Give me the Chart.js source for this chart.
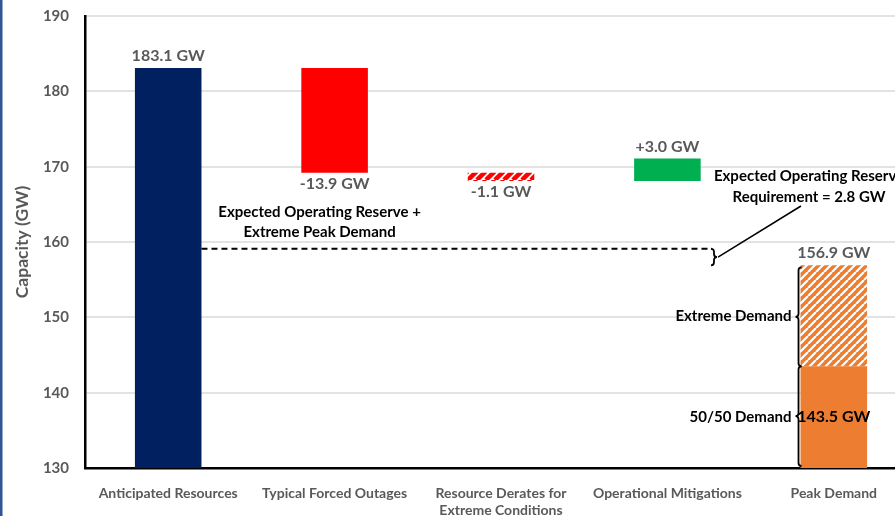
<!DOCTYPE html>
<html>
<head>
<meta charset="utf-8">
<script src="https://cdn.jsdelivr.net/npm/chart.js@4.4.0/dist/chart.umd.min.js"></script>
<style>
  html, body { margin:0; padding:0; background:#fff; overflow:hidden; width:895px; height:516px; }
  canvas { display:block; }
</style>
</head>
<body>
<canvas id="waterfall" width="917" height="516"></canvas>
<script>
const categories = ['Anticipated Resources','Typical Forced Outages',['Resource Derates for','Extreme Conditions'],'Operational Mitigations','Peak Demand'];
const steps = [183.1, -13.9, -1.1, 3.0];
const demand5050 = 143.5;
const demandPeak = 156.9;
const reserveReq = 2.8;
const reserveLevel = 159.1;
const yTicks = [130,140,150,160,170,180,190];

const grayTxt = '#595959';
const FONT = 'Lato, "Open Sans", sans-serif';

function hatch(fg, bg, size, lw){
  const c = document.createElement('canvas');
  c.width = size; c.height = size;
  const g = c.getContext('2d');
  g.fillStyle = bg; g.fillRect(0,0,size,size);
  g.strokeStyle = fg; g.lineWidth = lw;
  g.beginPath();
  for(let k=-1;k<=1;k++){ g.moveTo(k*size, size); g.lineTo(k*size+size, 0); }
  g.stroke();
  return g.createPattern(c,'repeat');
}
const redHatch = hatch('#ff0000','#ffffff',9,4.5);
const orangeHatch = hatch('#ffffff','#ed7d31',8,2.2);

// waterfall ranges
let level = 0;
const ranges = [], labels = [];
steps.forEach((d,i)=>{
  const a = level, b = level + d; level = b;
  if(i===0){ ranges.push([yTicks[0], b]); labels.push(b.toFixed(1)+' GW'); }
  else { ranges.push([Math.min(a,b), Math.max(a,b)]); labels.push((d>0?'+':'')+d.toFixed(1)+' GW'); }
});
ranges.push([yTicks[0], demand5050]);
const extremeRange = [null,null,null,null,[demand5050, demandPeak]];

const barColors = ['#002060','#ff0000',redHatch,'#00b050','#ed7d31'];

function brace(ctx, x, y1, y2, dir){
  const r = 3, ym = (y1+y2)/2;
  ctx.beginPath();
  ctx.moveTo(x - dir*r, y1);
  ctx.quadraticCurveTo(x, y1, x, y1 + r);
  ctx.lineTo(x, ym - r);
  ctx.quadraticCurveTo(x, ym, x + dir*r, ym);
  ctx.quadraticCurveTo(x, ym, x, ym + r);
  ctx.lineTo(x, y2 - r);
  ctx.quadraticCurveTo(x, y2, x - dir*r, y2);
  ctx.stroke();
}

const annotations = {
  id:'annotations',
  afterDatasetsDraw(chart){
    const ctx = chart.ctx, xs = chart.scales.x, ys = chart.scales.y;
    const bars = chart.getDatasetMeta(0).data;
    const ext = chart.getDatasetMeta(1).data[4];
    ctx.save();
    ctx.textAlign = 'center';
    ctx.font = 'bold 16px ' + FONT;
    ctx.fillStyle = grayTxt;
    // value labels
    steps.forEach((d,i)=>{
      const b = bars[i];
      const top = Math.min(b.y, b.base), bot = Math.max(b.y, b.base);
      if(d>0){ ctx.textBaseline='bottom'; ctx.fillText(labels[i], b.x, top-4); }
      else { ctx.textBaseline='top'; ctx.fillText(labels[i], b.x, bot+3); }
    });
    ctx.textBaseline='bottom';
    ctx.fillText(demandPeak.toFixed(1)+' GW', ext.x, Math.min(ext.y,ext.base)-5);
    ctx.fillStyle = '#000';
    ctx.textBaseline='middle';
    ctx.fillText(demand5050.toFixed(1)+' GW', bars[4].x, ys.getPixelForValue((yTicks[0]+demand5050)/2));

    // reserve dashed line
    const yRes = ys.getPixelForValue(reserveLevel);
    const yPk = ys.getPixelForValue(demandPeak);
    const braceX = xs.getPixelForValue(3) + 0.28*(xs.getPixelForValue(4)-xs.getPixelForValue(3));
    ctx.strokeStyle = '#000'; ctx.lineWidth = 2;
    ctx.setLineDash([6,4]);
    ctx.beginPath();
    ctx.moveTo(bars[0].x + bars[0].width/2, yRes);
    ctx.lineTo(braceX - 2, yRes);
    ctx.stroke();
    ctx.setLineDash([]);
    ctx.lineWidth = 1.8;
    brace(ctx, braceX, yRes, yPk, 1);
    ctx.lineWidth = 1.5;
    ctx.beginPath();
    ctx.moveTo(braceX + 4, (yRes+yPk)/2);
    ctx.lineTo(braceX + 87, 206);
    ctx.stroke();

    ctx.font = 'bold 15px ' + FONT;
    ctx.fillStyle = '#000';
    ctx.textAlign = 'center';
    ctx.textBaseline = 'middle';
    ctx.fillText('Expected Operating Reserve', braceX + 95, 176);
    ctx.fillText('Requirement = ' + reserveReq.toFixed(1) + ' GW', braceX + 95, 197);
    ctx.fillText('Expected Operating Reserve +', xs.getPixelForValue(1) - 15, yRes - 37);
    ctx.fillText('Extreme Peak Demand', xs.getPixelForValue(1) - 15, yRes - 17);

    // peak demand braces
    const bx = bars[4].x - bars[4].width/2 - 2;
    const y50 = ys.getPixelForValue(demand5050), y0 = ys.getPixelForValue(yTicks[0]);
    ctx.lineWidth = 1.8;
    brace(ctx, bx, yPk + 2, y50, -1);
    brace(ctx, bx, y50, y0 - 2, -1);
    ctx.textAlign = 'right';
    ctx.fillText('Extreme Demand', bx - 7, (yPk + y50)/2);
    ctx.fillText('50/50 Demand', bx - 7, (y50 + y0)/2);
    ctx.restore();
  },
  afterDraw(chart){
    const ctx = chart.ctx, ys = chart.scales.y;
    ctx.save();
    ctx.fillStyle = '#2f5597';
    ctx.fillRect(0,0,2.5,chart.height);
    ctx.translate(22, (ys.top + ys.bottom)/2);
    ctx.rotate(-Math.PI/2);
    ctx.textAlign='center'; ctx.textBaseline='middle';
    ctx.font = 'bold 17.5px ' + FONT;
    ctx.fillStyle = grayTxt;
    ctx.fillText('Capacity (GW)', 0, 0);
    ctx.restore();
  }
};

new Chart(document.getElementById('waterfall'), {
  type:'bar',
  data:{
    labels:categories,
    datasets:[
      {data:ranges, backgroundColor:barColors, grouped:false, barPercentage:0.4, categoryPercentage:1, borderWidth:0},
      {data:extremeRange, backgroundColor:orangeHatch, grouped:false, barPercentage:0.4, categoryPercentage:1, borderWidth:0}
    ]
  },
  options:{
    responsive:false,
    animation:false,
    layout:{padding:{top:16,left:0,right:0,bottom:0}},
    plugins:{legend:{display:false}, tooltip:{enabled:false}},
    scales:{
      x:{
        grid:{display:false},
        border:{color:'#000', width:2.5},
        ticks:{color:grayTxt, font:{family:FONT, size:14, weight:'bold'}, padding:9, maxRotation:0},
        afterFit(s){ s.height = 48; s.paddingLeft = 0; s.paddingRight = 0; }
      },
      y:{
        min:yTicks[0], max:yTicks[yTicks.length-1],
        afterBuildTicks(s){ s.ticks = yTicks.map(v=>({value:v})); },
        grid:{color:'#e3e3e3', lineWidth:2, drawTicks:false},
        border:{color:'#000', width:2.5},
        ticks:{color:grayTxt, font:{family:FONT, size:15, weight:'bold'}, padding:16},
        afterFit(s){ s.width = 85; s.paddingTop = 0; s.paddingBottom = 0; }
      }
    }
  },
  plugins:[annotations]
});
</script>
</body>
</html>
